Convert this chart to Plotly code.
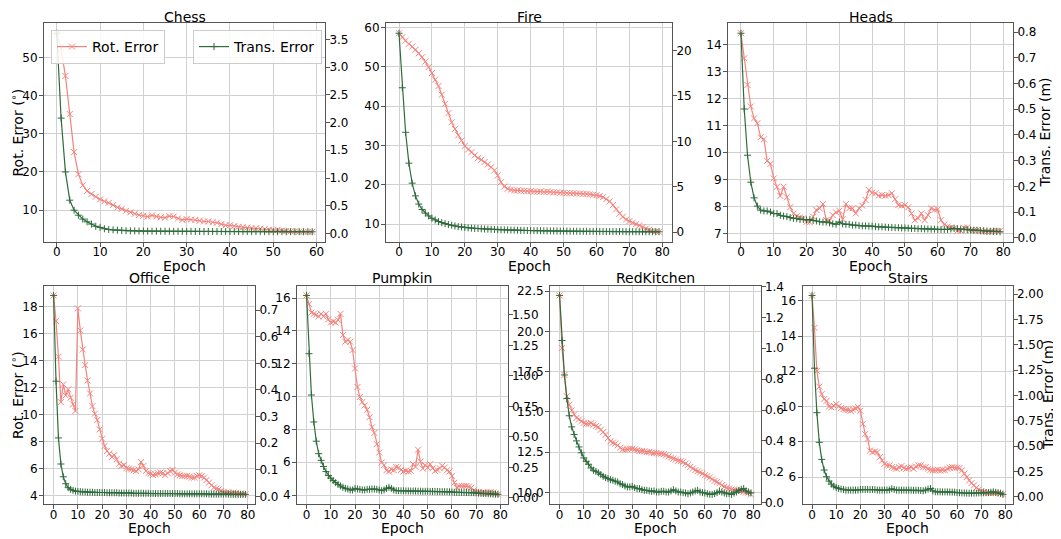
import plotly.graph_objects as go

W, H = 1061, 539
OFF = 8  # default page body margin of the browser

# ---------------- data ----------------
chess_rot = [56.4, 52.2, 45.2, 35.2, 25.2, 19.4, 16.5, 15.0, 14.2, 13.5,
             12.8, 12.3, 11.9, 11.3, 10.7, 10.3, 9.8, 9.4, 9.0, 8.7,
             8.5, 8.3, 8.6, 8.3, 8.1, 8.0, 8.4, 8.3, 7.8, 7.4,
             7.6, 7.5, 7.4, 7.2, 7.0, 7.0, 6.8, 6.7, 6.3, 6.0,
             6.0, 5.8, 5.6, 5.5, 5.4, 5.3, 5.2, 5.1, 5.0, 4.8,
             4.7, 4.8, 4.6, 4.5, 4.4, 4.4, 4.3, 4.3, 4.3, 4.3]
chess_trans = [3.61, 2.08, 1.11, 0.60, 0.42, 0.33, 0.26, 0.21, 0.17, 0.13,
               0.11, 0.085, 0.072, 0.065, 0.060, 0.055, 0.050, 0.048, 0.046, 0.045,
               0.044, 0.043, 0.042, 0.042, 0.041, 0.040, 0.040, 0.039, 0.039, 0.038,
               0.038, 0.038, 0.037, 0.037, 0.037, 0.036, 0.036, 0.036, 0.036, 0.035,
               0.035, 0.035, 0.035, 0.034, 0.034, 0.034, 0.034, 0.034, 0.033, 0.033,
               0.033, 0.033, 0.033, 0.032, 0.032, 0.032, 0.032, 0.032, 0.032, 0.031]

fire_rot = [58.5, 57.5, 56.6, 55.8, 55.1, 54.3, 53.4, 52.4, 51.3, 49.9,
            48.4, 46.7, 45.1, 42.9, 40.6, 38.2, 35.9, 34.2, 32.6, 31.3,
            29.9, 29.0, 28.3, 27.5, 26.8, 26.4, 25.8, 25.2, 24.5, 23.7,
            22.4, 20.7, 19.6, 19.0, 18.8, 18.6, 18.6, 18.5, 18.5, 18.4,
            18.4, 18.3, 18.3, 18.3, 18.2, 18.3, 18.2, 18.1, 18.1, 18.0,
            18.0, 17.9, 17.9, 17.9, 17.8, 17.8, 17.7, 17.7, 17.6, 17.5,
            17.4, 17.2, 16.9, 16.4, 15.8, 14.9, 13.8, 12.7, 11.9, 11.2,
            10.8, 10.4, 10.0, 9.7, 9.3, 8.9, 8.6, 8.3, 8.2, 8.1]
fire_trans = [21.9, 15.9, 11.0, 7.6, 5.4, 4.0, 3.1, 2.5, 2.1, 1.8,
              1.54, 1.35, 1.17, 1.06, 0.95, 0.84, 0.77, 0.69, 0.62, 0.58,
              0.52, 0.48, 0.45, 0.42, 0.40, 0.38, 0.36, 0.34, 0.32, 0.30,
              0.28, 0.27, 0.26, 0.25, 0.24, 0.23, 0.22, 0.21, 0.20, 0.19,
              0.18, 0.17, 0.17, 0.16, 0.15, 0.15, 0.14, 0.14, 0.13, 0.13,
              0.12, 0.12, 0.11, 0.11, 0.11, 0.10, 0.10, 0.10, 0.09, 0.09,
              0.09, 0.08, 0.08, 0.08, 0.08, 0.07, 0.07, 0.07, 0.07, 0.06,
              0.06, 0.06, 0.06, 0.06, 0.05, 0.05, 0.05, 0.05, 0.05, 0.05]

heads_rot = [14.43, 13.50, 12.51, 11.71, 11.27, 11.09, 10.57, 10.49, 9.69, 9.58,
             9.04, 8.73, 8.39, 8.73, 8.34, 7.97, 7.74, 7.64, 7.59, 7.56,
             7.43, 7.41, 7.62, 7.87, 7.93, 8.09, 7.49, 7.47, 7.68, 7.78,
             7.84, 7.53, 8.09, 7.93, 7.93, 7.74, 7.93, 8.03, 8.24, 8.61,
             8.51, 8.49, 8.40, 8.42, 8.40, 8.42, 8.49, 8.27, 8.05, 8.03,
             8.05, 7.97, 7.74, 7.49, 7.56, 7.74, 7.49, 7.68, 7.93, 7.87,
             7.89, 7.49, 7.33, 7.25, 7.22, 7.19, 7.10, 7.10, 7.21, 7.22,
             7.12, 7.12, 7.12, 7.09, 7.06, 7.06, 7.06, 7.09, 7.09, 7.10]
heads_trans = [0.796, 0.501, 0.321, 0.216, 0.155, 0.123, 0.107, 0.104, 0.104, 0.100,
               0.094, 0.094, 0.087, 0.084, 0.082, 0.078, 0.075, 0.074, 0.071, 0.071,
               0.069, 0.071, 0.067, 0.065, 0.062, 0.061, 0.061, 0.058, 0.054, 0.052,
               0.061, 0.054, 0.052, 0.052, 0.049, 0.049, 0.047, 0.046, 0.046, 0.045,
               0.045, 0.043, 0.042, 0.042, 0.041, 0.040, 0.040, 0.039, 0.039, 0.038,
               0.038, 0.037, 0.036, 0.036, 0.035, 0.035, 0.034, 0.034, 0.033, 0.033,
               0.032, 0.032, 0.032, 0.032, 0.034, 0.036, 0.035, 0.033, 0.032, 0.031,
               0.030, 0.029, 0.029, 0.028, 0.027, 0.026, 0.025, 0.025, 0.024, 0.023]

office_rot = [18.84, 16.94, 14.30, 10.95, 12.26, 11.44, 11.89, 11.27, 10.78, 10.29,
              17.88, 16.25, 14.84, 13.69, 12.55, 11.59, 10.65, 10.09, 9.62, 8.93,
              8.24, 7.70, 7.33, 7.13, 6.88, 7.03, 6.71, 6.39, 6.22, 6.29,
              6.05, 6.02, 5.97, 5.90, 5.85, 5.97, 6.51, 6.22, 5.85, 5.68,
              5.65, 5.55, 5.60, 5.68, 5.73, 5.68, 5.55, 5.68, 5.85, 5.92,
              5.73, 5.60, 5.53, 5.48, 5.48, 5.48, 5.43, 5.36, 5.36, 5.48,
              5.53, 5.48, 5.36, 5.18, 4.99, 4.79, 4.62, 4.54, 4.49, 4.37,
              4.30, 4.25, 4.25, 4.20, 4.25, 4.20, 4.17, 4.17, 4.15, 4.12]
office_trans = [0.755, 0.433, 0.220, 0.122, 0.074, 0.048, 0.033, 0.027, 0.023, 0.020,
                0.019, 0.018, 0.017, 0.017, 0.016, 0.016, 0.016, 0.015, 0.015, 0.015,
                0.015, 0.015, 0.014, 0.014, 0.014, 0.014, 0.014, 0.013, 0.013, 0.013,
                0.013, 0.013, 0.013, 0.012, 0.012, 0.012, 0.012, 0.012, 0.012, 0.012,
                0.011, 0.011, 0.011, 0.011, 0.011, 0.011, 0.011, 0.011, 0.011, 0.011,
                0.011, 0.011, 0.010, 0.010, 0.010, 0.010, 0.010, 0.010, 0.010, 0.010,
                0.010, 0.010, 0.010, 0.010, 0.009, 0.009, 0.009, 0.009, 0.009, 0.009,
                0.009, 0.009, 0.009, 0.008, 0.008, 0.008, 0.008, 0.008, 0.008, 0.008]

pumpkin_rot = [16.16, 15.63, 15.12, 15.04, 14.98, 14.88, 15.04, 14.88, 15.04, 14.71,
               14.51, 14.57, 14.51, 14.67, 15.04, 13.75, 13.34, 13.44, 13.34, 12.83,
               11.71, 10.58, 9.97, 9.66, 9.46, 9.19, 8.74, 8.13, 7.78, 7.10,
               6.59, 5.98, 5.82, 5.51, 5.43, 5.57, 5.51, 5.71, 5.67, 5.53,
               5.43, 5.47, 5.43, 5.47, 5.88, 5.71, 6.76, 6.04, 5.61, 5.82,
               5.67, 5.88, 5.63, 5.47, 5.53, 5.63, 5.78, 5.67, 5.51, 5.43,
               5.16, 4.75, 4.45, 4.55, 4.55, 4.55, 4.55, 4.51, 4.45, 4.28,
               4.20, 4.18, 4.14, 4.18, 4.14, 4.14, 4.18, 4.14, 4.08, 4.04]
pumpkin_trans = [1.66, 1.182, 0.843, 0.622, 0.464, 0.362, 0.307, 0.257, 0.215, 0.182,
                 0.160, 0.141, 0.124, 0.110, 0.097, 0.086, 0.077, 0.072, 0.064, 0.064,
                 0.077, 0.072, 0.069, 0.064, 0.064, 0.069, 0.069, 0.072, 0.072, 0.069,
                 0.064, 0.058, 0.064, 0.077, 0.086, 0.077, 0.064, 0.058, 0.058, 0.057,
                 0.057, 0.056, 0.056, 0.055, 0.055, 0.055, 0.054, 0.054, 0.053, 0.053,
                 0.053, 0.052, 0.052, 0.052, 0.051, 0.051, 0.050, 0.050, 0.050, 0.049,
                 0.047, 0.045, 0.044, 0.044, 0.044, 0.043, 0.043, 0.043, 0.042, 0.042,
                 0.040, 0.038, 0.036, 0.035, 0.034, 0.033, 0.032, 0.031, 0.030, 0.028]

redkitchen_rot = [22.23, 18.96, 17.29, 15.97, 15.44, 15.09, 14.84, 14.63, 14.53, 14.41,
                  14.32, 14.26, 14.26, 14.30, 14.20, 14.12, 14.06, 13.89, 13.75, 13.58,
                  13.38, 13.17, 13.09, 13.03, 12.92, 12.78, 12.66, 12.66, 12.68, 12.72,
                  12.72, 12.66, 12.62, 12.57, 12.57, 12.55, 12.51, 12.51, 12.47, 12.45,
                  12.45, 12.41, 12.41, 12.37, 12.31, 12.24, 12.16, 12.10, 12.04, 11.96,
                  11.94, 11.89, 11.79, 11.69, 11.59, 11.48, 11.38, 11.32, 11.24, 11.17,
                  11.07, 11.01, 10.93, 10.82, 10.72, 10.66, 10.56, 10.45, 10.35, 10.29,
                  10.25, 10.19, 10.17, 10.14, 10.10, 10.10, 10.04, 10.00, 9.98, 9.88]
redkitchen_trans = [1.342, 1.050, 0.827, 0.675, 0.563, 0.491, 0.442, 0.400, 0.361, 0.323,
                    0.290, 0.268, 0.249, 0.225, 0.210, 0.203, 0.193, 0.182, 0.171, 0.162,
                    0.156, 0.149, 0.145, 0.139, 0.134, 0.123, 0.117, 0.108, 0.102, 0.102,
                    0.106, 0.097, 0.091, 0.091, 0.084, 0.080, 0.080, 0.076, 0.074, 0.076,
                    0.069, 0.069, 0.074, 0.074, 0.069, 0.069, 0.076, 0.084, 0.076, 0.069,
                    0.069, 0.065, 0.063, 0.058, 0.063, 0.069, 0.076, 0.080, 0.069, 0.065,
                    0.063, 0.058, 0.054, 0.054, 0.058, 0.065, 0.074, 0.069, 0.063, 0.058,
                    0.058, 0.054, 0.063, 0.069, 0.080, 0.087, 0.091, 0.076, 0.069, 0.063]

stairs_rot = [16.30, 14.46, 12.02, 11.13, 10.70, 10.42, 10.32, 10.00, 9.95, 10.04,
              10.14, 10.00, 9.91, 9.85, 9.82, 9.80, 9.76, 9.82, 9.89, 9.98,
              9.76, 9.01, 8.44, 8.16, 7.50, 7.41, 7.45, 7.41, 7.13, 6.94,
              6.75, 6.66, 6.66, 6.56, 6.51, 6.47, 6.56, 6.62, 6.51, 6.47,
              6.51, 6.56, 6.47, 6.60, 6.66, 6.66, 6.56, 6.56, 6.47, 6.41,
              6.38, 6.38, 6.41, 6.38, 6.41, 6.38, 6.47, 6.53, 6.56, 6.53,
              6.53, 6.51, 6.38, 6.19, 6.00, 5.81, 5.66, 5.53, 5.40, 5.29,
              5.21, 5.15, 5.12, 5.10, 5.10, 5.10, 5.10, 5.10, 5.06, 5.02]
stairs_trans = [1.987, 1.269, 0.830, 0.537, 0.369, 0.264, 0.198, 0.155, 0.125, 0.105,
                0.092, 0.082, 0.076, 0.072, 0.066, 0.066, 0.065, 0.065, 0.066, 0.066,
                0.072, 0.072, 0.071, 0.072, 0.070, 0.071, 0.070, 0.066, 0.066, 0.065,
                0.066, 0.066, 0.068, 0.079, 0.072, 0.066, 0.066, 0.065, 0.066, 0.065,
                0.066, 0.065, 0.064, 0.065, 0.064, 0.062, 0.059, 0.066, 0.076, 0.082,
                0.059, 0.050, 0.049, 0.049, 0.048, 0.048, 0.048, 0.047, 0.046, 0.045,
                0.042, 0.040, 0.038, 0.037, 0.036, 0.035, 0.036, 0.036, 0.037, 0.038,
                0.039, 0.040, 0.040, 0.041, 0.045, 0.049, 0.044, 0.040, 0.035, 0.024]

titles = ["Chess", "Fire", "Heads", "Office", "Pumpkin", "RedKitchen", "Stairs"]
rot_series = [chess_rot, fire_rot, heads_rot, office_rot, pumpkin_rot, redkitchen_rot, stairs_rot]
trans_series = [chess_trans, fire_trans, heads_trans, office_trans, pumpkin_trans, redkitchen_trans, stairs_trans]

# tick settings per panel: (left dtick, left format, right dtick, right format)
tick_cfg = [(10, "", 0.5, ".1f"), (10, "", 5, ""), (1, "", 0.1, ".1f"),
            (2, "", 0.1, ".1f"), (2, "", 0.25, ".2f"), (2.5, ".1f", 0.2, ".1f"),
            (2, "", 0.25, ".2f")]

# ---------------- layout geometry (page pixels) ----------------
xpix = [(44, 325), (386, 672), (728, 1013), (44, 255), (297, 507.5), (550, 760.5), (802.5, 1012.5)]
TOP_ROW = (23.3, 241.7)
BOT_ROW = (285.5, 504.3)
ypix = [TOP_ROW] * 3 + [BOT_ROW] * 4
title_y = [16.5] * 3 + [277.5] * 4

ROT_C = "#f4837d"
TRANS_C = "#2f6b3c"
FRAME_C = "#555555"
GRID_C = "#d0d0d0"
FONT = "DejaVu Sans"

FW, FH = W - OFF, H - OFF


def pxx(v):
    return (v - OFF) / FW


def pxy(v):
    return 1 - (v - OFF) / FH


def margins(vals):
    lo, hi = min(vals), max(vals)
    s = hi - lo
    return [lo - 0.05 * s, hi + 0.05 * s]


fig = go.Figure()
layout = {}
annotations = []

for i in range(7):
    k = i + 1
    xa = "x" if k == 1 else f"x{k}"
    yl_n, yr_n = 2 * k - 1, 2 * k
    yl = "y" if yl_n == 1 else f"y{yl_n}"
    yr = f"y{yr_n}"
    rot = rot_series[i]
    trans = trans_series[i]
    ep = list(range(len(rot)))

    fig.add_trace(go.Scatter(
        x=ep, y=rot, xaxis=xa, yaxis=yl, mode="lines+markers", name="Rot. Error",
        line=dict(color=ROT_C, width=1.2),
        marker=dict(symbol="x-thin", size=6, line=dict(color=ROT_C, width=1)),
        showlegend=(k == 1), legend="legend"))
    fig.add_trace(go.Scatter(
        x=ep, y=trans, xaxis=xa, yaxis=yr, mode="lines+markers", name="Trans. Error",
        line=dict(color=TRANS_C, width=1.2),
        marker=dict(symbol="cross-thin", size=5, line=dict(color=TRANS_C, width=1)),
        showlegend=(k == 1), legend="legend2"))

    x0, x1 = xpix[i]
    yt, yb = ypix[i]
    dom_x = [pxx(x0), pxx(x1)]
    dom_y = [pxy(yb), pxy(yt)]
    ldt, lfmt, rdt, rfmt = tick_cfg[i]
    common = dict(showline=True, linecolor=FRAME_C, linewidth=1, ticks="outside", ticklen=4,
                  tickwidth=1, tickcolor=FRAME_C, zeroline=False, automargin=False,
                  tickfont=dict(family=FONT, size=12, color="black"))

    layout["xaxis" if k == 1 else f"xaxis{k}"] = dict(
        domain=dom_x, anchor=yl, range=margins(ep), dtick=10, tick0=0, mirror=True,
        showgrid=True, gridcolor=GRID_C, gridwidth=1, ticklabelstandoff=-5, **common)
    layout["yaxis" if yl_n == 1 else f"yaxis{yl_n}"] = dict(
        domain=dom_y, anchor=xa, range=margins(rot), dtick=ldt, tick0=0, tickformat=lfmt,
        showgrid=True, gridcolor=GRID_C, gridwidth=1, side="left", ticklabelstandoff=-1,
        **common)
    layout[f"yaxis{yr_n}"] = dict(
        domain=dom_y, anchor=xa, overlaying=yl, side="right", range=margins(trans),
        dtick=rdt, tick0=0, tickformat=rfmt, showgrid=False, ticklabelstandoff=-3, **common)

    cx = (x0 + x1) / 2
    annotations.append(dict(text=titles[i], x=pxx(cx), y=pxy(title_y[i]), xref="paper",
                            yref="paper", xanchor="center", yanchor="middle", showarrow=False,
                            font=dict(family=FONT, size=14, color="black")))
    annotations.append(dict(text="Epoch", x=pxx(cx), y=pxy(yb + 24), xref="paper", yref="paper",
                            xanchor="center", yanchor="middle", showarrow=False,
                            font=dict(family=FONT, size=14, color="black")))

# axis titles
for (xc, yc) in [(17, (TOP_ROW[0] + TOP_ROW[1]) / 2), (17, (BOT_ROW[0] + BOT_ROW[1]) / 2)]:
    annotations.append(dict(text="Rot. Error (<sup>∘</sup>)", x=pxx(xc), y=pxy(yc), xref="paper",
                            yref="paper", xanchor="center", yanchor="middle", textangle=-90,
                            showarrow=False, font=dict(family=FONT, size=14, color="black")))
for (xc, yc) in [(1044, (TOP_ROW[0] + TOP_ROW[1]) / 2), (1048, (BOT_ROW[0] + BOT_ROW[1]) / 2)]:
    annotations.append(dict(text="Trans. Error (m)", x=pxx(xc), y=pxy(yc), xref="paper",
                            yref="paper", xanchor="center", yanchor="middle", textangle=-90,
                            showarrow=False, font=dict(family=FONT, size=14, color="black")))

legend_style = dict(bgcolor="rgba(255,255,255,0.85)", bordercolor="#cccccc", borderwidth=1,
                    font=dict(family=FONT, size=14, color="black"), itemwidth=30,
                    xref="paper", yref="paper", yanchor="top", tracegroupgap=0)

fig.update_layout(
    width=FW, height=FH, margin=dict(l=0, r=0, t=0, b=0),
    paper_bgcolor="white", plot_bgcolor="white", template="none",
    font=dict(family=FONT, size=12, color="black"),
    annotations=annotations,
    legend=dict(x=pxx(51), y=pxy(30), xanchor="left", **legend_style),
    legend2=dict(x=pxx(322), y=pxy(30), xanchor="right", **legend_style),
    **layout)

fig.write_html("out.html")
